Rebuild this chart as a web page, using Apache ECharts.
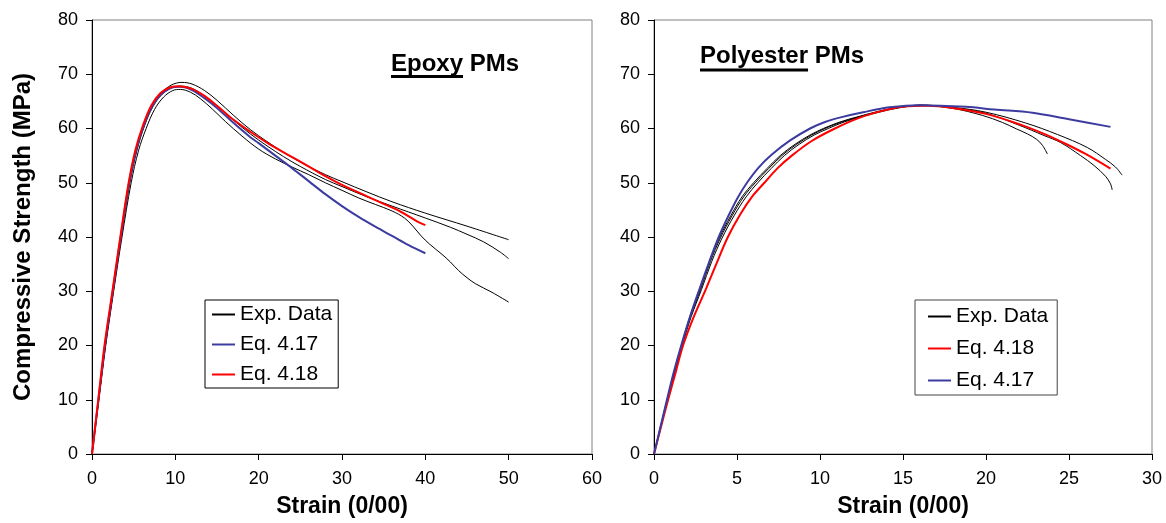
<!DOCTYPE html>
<html>
<head>
<meta charset="utf-8">
<script src="https://cdn.jsdelivr.net/npm/echarts@6/dist/echarts.min.js"></script>
<style>
html,body{margin:0;padding:0;background:#fff;}
#chart{width:1166px;height:523px;}
</style>
</head>
<body>
<div id="chart"></div>
<script>
// ---------- Data (strain in 0/00, strength in MPa) ----------
const yTicks = [0, 10, 20, 30, 40, 50, 60, 70, 80];
const epoxyXTicks = [0, 10, 20, 30, 40, 50, 60];
const polyXTicks = [0, 5, 10, 15, 20, 25, 30];

// Epoxy PMs
const epoxyExp1 = [[0,0],[0.8,10],[1.6,20],[2.5,30],[3.45,40],[4.45,50],[5.3,56],[6.2,60.5],[7.2,64],[8.3,66.5],[9.5,68],[10.8,68.5],[12,68.2],[13.5,67],[15,65.2],[17,62.4],[19,59.8],[21,57.6],[23,55.6],[25,53.8],[28,51.5],[30,50.2],[33,48.3],[36,46.5],[40,44.4],[45,42],[50,39.5]];
const epoxyExp2 = [[0,0],[0.8,10],[1.6,20],[2.55,30],[3.5,40],[4.55,50],[5.4,56],[6.3,60.5],[7.3,64],[8.4,66.3],[9.6,67.5],[10.7,67.8],[12,67.4],[13.5,66],[15,64.2],[17,61.5],[19,59],[21,56.8],[23,54.8],[25,53],[28,50.6],[30,49.3],[33,47.4],[36,45.7],[40,43.5],[43,41.8],[45,40.5],[47,39.1],[49,37.2],[50,36]];
const epoxyExp3 = [[0,0],[0.82,10],[1.65,20],[2.6,30],[3.6,40],[4.7,50],[5.6,56],[6.5,60],[7.5,63.5],[8.6,65.8],[9.7,67],[10.6,67.2],[11.8,66.7],[13,65.5],[14.5,63.5],[16,61.3],[18,58.6],[20,56.2],[22,54.4],[24,52.9],[26,51.5],[28,50],[30,48.6],[32,47.2],[34,46],[36,44.8],[37.5,43.5],[38.5,42],[39.5,40.2],[40.5,38.7],[42,36.8],[43,35.4],[44,33.8],[45,32.5],[46,31.4],[48,29.8],[50,28]];
const epoxyEq417 = [[0,0],[0.78,10],[1.56,20],[2.5,30],[3.45,40],[4.45,50],[5.3,56],[6.2,60.5],[7.2,64],[8.3,66.3],[9.5,67.5],[10.6,67.7],[12,67.1],[13.5,65.6],[15,63.8],[17,61],[19,58.4],[20,57.3],[22,55],[24,52.7],[26,50.3],[28,47.9],[30,45.7],[32,43.7],[34,41.9],[36,40.2],[38,38.5],[40,37]];
const epoxyEq418 = [[0,0],[0.75,10],[1.5,20],[2.45,30],[3.4,40],[4.4,50],[5.2,56],[6.1,60.5],[7.1,64.2],[8.2,66.5],[9.4,67.6],[10.5,67.8],[12,67.3],[13.5,66],[15,64.2],[17,61.6],[19,59.4],[21,57.4],[23,55.6],[25,53.9],[28,51.2],[30,49.6],[33,47.5],[35,46.1],[37,44.7],[39,42.9],[40,42.2]];

// Polyester PMs
const polyExp1 = [[0,0],[0.4,5],[0.8,10],[1.2,14.8],[1.67,20],[2.2,25.3],[2.8,30.3],[3.4,35.5],[4.0,39.8],[4.7,43.9],[5.4,47.4],[6.1,50],[6.9,52.6],[7.7,55],[8.6,57.1],[9.5,58.8],[10.3,60],[11.3,61.2],[12.3,62.1],[13.4,63],[14.6,63.8],[16,64.3],[18,63.7],[19.8,62.4],[21,61.1],[21.85,59.9],[22.5,59],[23.05,58],[23.4,56.9],[23.7,55.3]];
const polyExp2 = [[0,0],[0.39,5],[0.78,10],[1.18,14.8],[1.64,20],[2.16,25.3],[2.75,30.3],[3.34,35.5],[3.93,39.8],[4.62,43.9],[5.3,47.4],[6.0,50],[6.8,52.6],[7.6,55],[8.5,57.1],[9.4,58.8],[10.2,60],[11.2,61.2],[12.2,62.1],[13.3,63],[14.5,63.8],[16,64.3],[18,63.8],[20,62.8],[22,60.6],[23.5,58.7],[24.5,57.4],[25.7,55],[26.5,53.2],[27.2,51.2],[27.5,49.8],[27.6,48.7]];
const polyExp3 = [[0,0],[0.41,5],[0.82,10],[1.23,14.8],[1.7,20],[2.24,25.3],[2.86,30.3],[3.48,35.5],[4.1,39.8],[4.82,43.9],[5.55,47.4],[6.25,50],[7.05,52.6],[7.85,55],[8.75,57.1],[9.65,58.8],[10.5,60],[11.45,61.2],[12.45,62.1],[13.55,63],[14.75,63.8],[16.2,64.3],[18,63.9],[20,63],[22.4,61],[24.3,58.9],[26.1,56.5],[27.2,54.3],[27.8,52.9],[28.2,51.4]];
const polyEq418 = [[0,0],[0.42,5],[0.85,10],[1.3,15],[1.75,20],[2.4,25.3],[3.1,30.2],[3.75,35],[4.45,40],[5.2,44.2],[5.9,47.4],[6.65,50],[7.45,52.7],[8.3,55],[9.5,57.7],[10.9,60],[12.4,62],[13.7,63.2],[15,64],[16.5,64.2],[18,63.8],[20,62.7],[22,60.8],[23.5,59],[24.85,57.1],[26,55.3],[27.5,52.6]];
const polyEq417 = [[0,0],[0.4,5.1],[0.78,10],[1.2,15.2],[1.64,20],[2.2,25.6],[2.75,30.5],[3.3,35.2],[3.9,40],[4.5,44],[5.05,47.3],[5.6,50],[6.3,52.8],[7.1,55.2],[8.2,57.8],[9.4,60],[10.3,61.2],[11.3,62.1],[12.6,63],[14.2,63.9],[16,64.3],[18.8,64],[20.5,63.5],[22.8,62.9],[25,61.7],[27.5,60.3]];

// ---------- Styling ----------
const FONT = 'Liberation Sans, Arial, Helvetica, sans-serif';
const BLUE = '#3c3ca0';
const RED = '#ff0000';

function measure(text, font) {
  const c = document.createElement('canvas').getContext('2d');
  c.font = font;
  return c.measureText(text).width;
}

function xAxisFor(gridIndex, ticks) {
  return {
    type: 'value', gridIndex: gridIndex,
    min: ticks[0], max: ticks[ticks.length - 1], interval: ticks[1] - ticks[0],
    name: 'Strain (0/00)', nameLocation: 'middle', nameGap: 41,
    nameTextStyle: { fontFamily: FONT, fontWeight: 'bold', fontSize: 23, color: '#000' },
    axisLine: { show: true, onZero: false, lineStyle: { color: '#000', width: 1 } },
    axisTick: { show: true, inside: false, length: 6, lineStyle: { color: '#000' } },
    axisLabel: { margin: 16, fontFamily: FONT, fontSize: 18, color: '#000' },
    splitLine: { show: false }
  };
}
function yAxisFor(gridIndex, withName) {
  return {
    type: 'value', gridIndex: gridIndex,
    min: yTicks[0], max: yTicks[yTicks.length - 1], interval: yTicks[1] - yTicks[0],
    name: withName ? 'Compressive Strength (MPa)' : '',
    nameLocation: 'middle', nameGap: 57, nameRotate: 90,
    nameTextStyle: { fontFamily: FONT, fontWeight: 'bold', fontSize: 24, color: '#000' },
    axisLine: { show: true, onZero: false, lineStyle: { color: '#000', width: 1 } },
    axisTick: { show: true, inside: false, length: 6, lineStyle: { color: '#000' } },
    axisLabel: { margin: 14, fontFamily: FONT, fontSize: 18, color: '#000' },
    splitLine: { show: false }
  };
}
function line(name, data, idx, color, width, z) {
  return {
    type: 'line', name: name, data: data, xAxisIndex: idx, yAxisIndex: idx,
    symbol: 'none', showSymbol: false, smooth: 0.35, z: z,
    lineStyle: { color: color, width: width }, itemStyle: { color: color },
    emphasis: { disabled: true }, animation: false
  };
}

const legendText = { fontFamily: FONT, fontSize: 21, color: '#000', lineHeight: 21 };

const titleFont = 'bold 24px ' + FONT;
const wEpoxy = measure('Epoxy', titleFont);
const wPoly = measure('Polyester', titleFont);

const option = {
  backgroundColor: '#fff',
  animation: false,
  grid: [
    { left: 92, right: 574, top: 20, bottom: 67, show: true, borderColor: '#808080', borderWidth: 1, backgroundColor: 'transparent' },
    { left: 654, right: 14, top: 20, bottom: 67, show: true, borderColor: '#808080', borderWidth: 1, backgroundColor: 'transparent' }
  ],
  xAxis: [xAxisFor(0, epoxyXTicks), xAxisFor(1, polyXTicks)],
  yAxis: [yAxisFor(0, true), yAxisFor(1, false)],
  legend: [
    {
      data: ['Exp. Data', 'Eq. 4.17', 'Eq. 4.18'], orient: 'vertical', left: 205, top: 300,
      padding: [4, 6, 3, 6], itemGap: 9, itemWidth: 23, itemHeight: 0.01,
      backgroundColor: '#fff', borderColor: '#000', borderWidth: 1,
      textStyle: legendText, selectedMode: false
    },
    {
      data: ['Exp. Data', 'Eq. 4.18', 'Eq. 4.17'], orient: 'vertical', left: 915, top: 300,
      padding: [6, 9, 4, 12], itemGap: 11, itemWidth: 23, itemHeight: 0.01,
      backgroundColor: '#fff', borderColor: '#444', borderWidth: 1,
      textStyle: legendText, selectedMode: false
    }
  ],
  graphic: [
    { type: 'text', left: 391, top: 52, style: { text: 'Epoxy PMs', font: titleFont, fill: '#000' }, z: 10 },
    { type: 'rect', shape: { x: 391, y: 75, width: wEpoxy, height: 3 }, style: { fill: '#000' }, z: 10 },
    { type: 'text', left: 700, top: 44, style: { text: 'Polyester PMs', font: titleFont, fill: '#000' }, z: 10 },
    { type: 'rect', shape: { x: 700, y: 68.5, width: wPoly, height: 3 }, style: { fill: '#000' }, z: 10 }
  ],
  series: [
    line('Exp. Data', epoxyExp1, 0, '#000', 1, 2),
    line('Exp. Data', epoxyExp2, 0, '#000', 1, 2),
    line('Exp. Data', epoxyExp3, 0, '#000', 1, 2),
    line('Eq. 4.17', epoxyEq417, 0, BLUE, 2, 3),
    line('Eq. 4.18', epoxyEq418, 0, RED, 2, 4),
    line('Exp. Data', polyExp1, 1, '#000', 1, 2),
    line('Exp. Data', polyExp2, 1, '#000', 1, 2),
    line('Exp. Data', polyExp3, 1, '#000', 1, 2),
    line('Eq. 4.18', polyEq418, 1, RED, 2, 3),
    line('Eq. 4.17', polyEq417, 1, BLUE, 2, 4)
  ]
};

const chart = echarts.init(document.getElementById('chart'), null, { renderer: 'canvas' });
chart.setOption(option);
</script>
</body>
</html>
